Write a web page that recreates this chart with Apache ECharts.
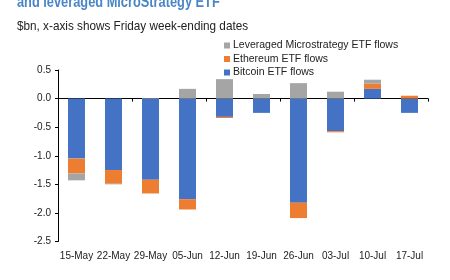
<!DOCTYPE html>
<html>
<head>
<meta charset="utf-8">
<script src="https://cdn.jsdelivr.net/npm/echarts@6/dist/echarts.min.js"></script>
<style>
  html, body { margin: 0; padding: 0; background: #fff; }
  #main { width: 450px; height: 280px; }
</style>
</head>
<body>
<div id="main"></div>
<script>
// weekly flows, $bn
const weeks = ['15-May', '22-May', '29-May', '05-Jun', '12-Jun', '19-Jun', '26-Jun', '03-Jul', '10-Jul', '17-Jul'];
const bitcoin = [-1.05, -1.25, -1.42, -1.76, -0.32, -0.25, -1.82, -0.57, 0.17, -0.25];
const ethereum = [-0.26, -0.24, -0.24, -0.18, -0.02, 0, -0.27, -0.02, 0.09, 0.05];
const leveraged = [-0.12, -0.01, 0.01, 0.17, 0.34, 0.08, 0.27, 0.12, 0.07, 0];

const font = 'Arial, "Liberation Sans", sans-serif';

let myChart = echarts.init(document.getElementById('main'));
myChart.setOption({
  animation: false,
  textStyle: { fontFamily: font },
  graphic: [
    {
      type: 'text', x: 17, y: -5, scaleX: 0.8,
      style: { text: 'and leveraged MicroStrategy ETF', font: 'bold 16px ' + font, fill: '#4a86c6' }
    },
    {
      type: 'text', x: 17, y: 19, scaleX: 0.87,
      style: { text: '$bn, x-axis shows Friday week-ending dates', font: '13.5px ' + font, fill: '#222' }
    }
  ],
  legend: {
    orient: 'vertical',
    left: 219, top: 35,
    itemWidth: 6, itemHeight: 6, itemGap: 2.5,
    icon: 'rect',
    textStyle: { fontSize: 10.5, color: '#222', fontFamily: font, padding: [0, 0, 0, -2] },
    data: ['Leveraged Microstrategy ETF flows', 'Ethereum ETF flows', 'Bitcoin ETF flows']
  },
  grid: { left: 58, right: 22, top: 70, bottom: 38.5 },
  xAxis: [
    {
      type: 'category',
      data: weeks,
      axisLine: { onZero: true, lineStyle: { color: '#000', width: 1 } },
      axisTick: { show: true, length: 3, lineStyle: { color: '#000' } },
      axisLabel: { show: false }
    },
    {
      type: 'category',
      data: weeks,
      position: 'bottom',
      axisLine: { show: false, onZero: false },
      axisTick: { show: false },
      axisLabel: { interval: 0, color: '#222', fontSize: 10, margin: 10, fontFamily: font }
    }
  ],
  yAxis: {
    type: 'value',
    min: -2.5, max: 0.5, interval: 0.5,
    splitLine: { show: false },
    axisLine: { show: true, lineStyle: { color: '#000' } },
    axisTick: { show: true, length: 3, lineStyle: { color: '#000' } },
    axisLabel: { color: '#222', fontSize: 10, margin: 7, formatter: v => v.toFixed(1) }
  },
  series: [
    { name: 'Bitcoin ETF flows', type: 'bar', stack: 'f', data: bitcoin, barWidth: 17, itemStyle: { color: '#4472c4' } },
    { name: 'Ethereum ETF flows', type: 'bar', stack: 'f', data: ethereum, barWidth: 17, itemStyle: { color: '#ed7d31' } },
    { name: 'Leveraged Microstrategy ETF flows', type: 'bar', stack: 'f', data: leveraged, barWidth: 17, itemStyle: { color: '#a5a5a5' } }
  ]
});
</script>
</body>
</html>
